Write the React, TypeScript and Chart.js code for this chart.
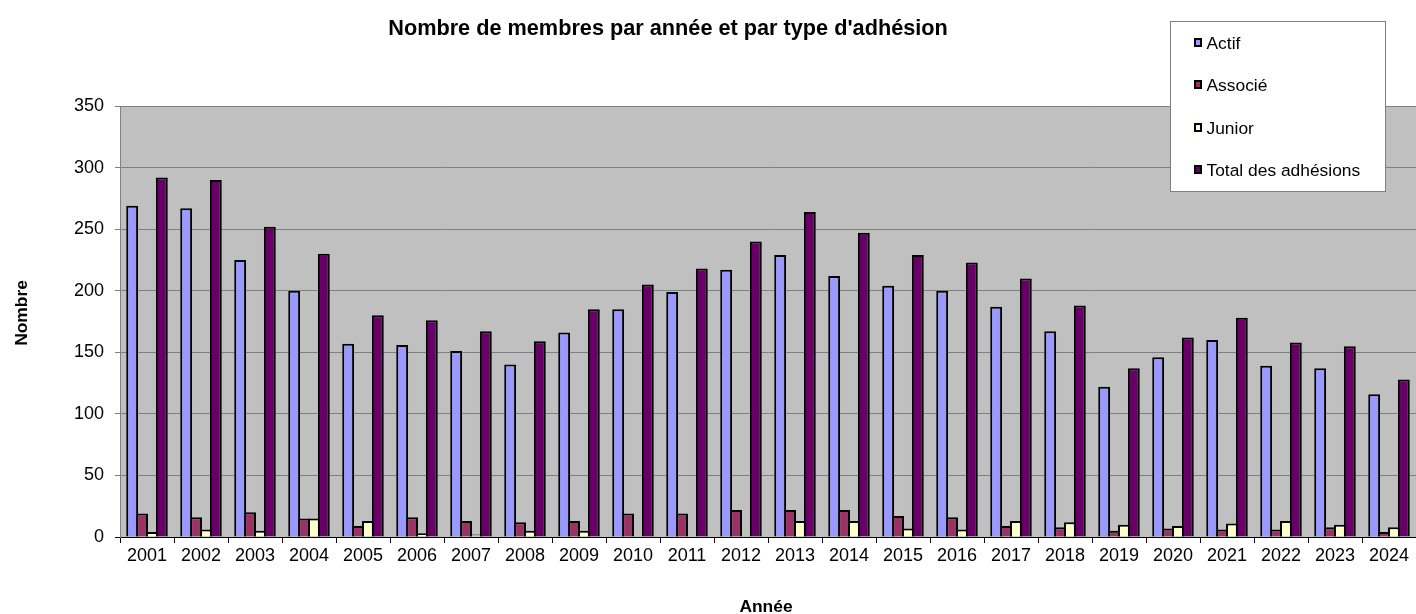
import { useEffect, useRef } from "react";
import { Chart, registerables } from "chart.js";

Chart.register(...registerables);

const years = [
  "2001", "2002", "2003", "2004", "2005", "2006", "2007", "2008",
  "2009", "2010", "2011", "2012", "2013", "2014", "2015", "2016",
  "2017", "2018", "2019", "2020", "2021", "2022", "2023", "2024",
];
const actif = [269, 267, 225, 200, 157, 156, 151, 140, 166, 185, 199, 217, 229, 212, 204, 200, 187, 167, 122, 146, 160, 139, 137, 116];
const associe = [19, 16, 20, 15, 9, 16, 13, 12, 13, 19, 19, 22, 22, 22, 17, 16, 9, 8, 5, 7, 6, 6, 8, 4];
const junior = [4, 6, 5, 15, 13, 3, 2, 5, 5, 0, 0, 0, 13, 13, 7, 6, 13, 12, 10, 9, 11, 13, 10, 8];
const total = [292, 290, 252, 230, 180, 176, 167, 159, 185, 205, 218, 240, 264, 247, 229, 223, 210, 188, 137, 162, 178, 158, 155, 128];

const seriesNames = ["Actif", "Associé", "Junior", "Total des adhésions"];
const seriesColors = ["#9999FF", "#993366", "#FFFFCC", "#660066"];
const yMin = 0;
const yMax = 350;
const yStep = 50;

const chartTitle = "Nombre de membres par année et par type d'adhésion";
const xTitle = "Année";
const yTitle = "Nombre";

const FONT = "'Liberation Sans', Arial, sans-serif";

export default function App() {
  const ref = useRef<HTMLCanvasElement | null>(null);

  useEffect(() => {
    document.body.style.margin = "0";
    const canvas = ref.current;
    if (!canvas) return;

    const bgPlugin = {
      id: "plotBg",
      beforeDraw(chart: any) {
        const { ctx, chartArea } = chart;
        ctx.save();
        ctx.fillStyle = "#C0C0C0";
        ctx.fillRect(chartArea.left, chartArea.top, chartArea.right - chartArea.left, chartArea.bottom - chartArea.top);
        ctx.restore();
      },
    };

    const overlayPlugin = {
      id: "overlay",
      afterDraw(chart: any) {
        const { ctx } = chart;
        ctx.save();
        // Title
        ctx.fillStyle = "#000";
        ctx.font = `bold 21.7px ${FONT}`;
        ctx.textAlign = "center";
        ctx.textBaseline = "alphabetic";
        ctx.fillText(chartTitle, 668, 35);

        // X axis title
        ctx.font = `bold 17.4px ${FONT}`;
        ctx.fillText(xTitle, 766, 611.5);

        // Y axis title
        ctx.save();
        ctx.translate(27, 313);
        ctx.rotate(-Math.PI / 2);
        ctx.font = `bold 17.4px ${FONT}`;
        ctx.fillText(yTitle, 0, 0);
        ctx.restore();

        // Legend
        ctx.fillStyle = "#FFFFFF";
        ctx.fillRect(1170, 21, 215, 171);
        ctx.strokeStyle = "#7F7F7F";
        ctx.lineWidth = 1;
        ctx.strokeRect(1170.5, 21.5, 215, 170);
        ctx.font = `17.4px ${FONT}`;
        ctx.textAlign = "left";
        chart.data.datasets.forEach((ds: any, i: number) => {
          const base = 48.5 + i * 42.6;
          const cy = Math.round(base - 7);
          ctx.fillStyle = "#000";
          ctx.fillRect(1194, cy - 4, 8, 9);
          ctx.fillStyle = ds.backgroundColor;
          ctx.fillRect(1196, cy - 2, 4, 5);
          ctx.fillStyle = "#000";
          ctx.fillText(ds.label, 1206.5, base);
        });
        ctx.restore();
      },
    };

    const seriesData = [actif, associe, junior, total];

    const chart = new Chart(canvas, {
      type: "bar",
      data: {
        labels: years,
        datasets: seriesNames.map((name, i) => ({
          label: name,
          data: seriesData[i],
          backgroundColor: seriesColors[i],
          borderColor: "#000000",
          borderWidth: 2,
          barPercentage: 1.2,
          categoryPercentage: 0.733,
        })),
      },
      options: {
        responsive: false,
        animation: false,
        devicePixelRatio: 1,
        layout: { padding: { top: 106, right: 0, left: 0, bottom: 0 } },
        plugins: {
          legend: { display: false },
          title: { display: false },
          tooltip: { enabled: false },
        },
        scales: {
          x: {
            type: "category",
            offset: true,
            grid: {
              drawOnChartArea: false,
              drawTicks: true,
              tickLength: 6,
              color: "#000000",
              offset: true,
            },
            border: { color: "#000000", width: 1 },
            ticks: {
              font: { family: FONT, size: 18 },
              color: "#000000",
              padding: 2,
              maxRotation: 0,
              autoSkip: false,
            },
            afterFit: (s: any) => {
              s.height = 77;
            },
          },
          y: {
            min: yMin,
            max: yMax,
            ticks: {
              stepSize: yStep,
              font: { family: FONT, size: 18 },
              color: "#000000",
              padding: 11,
            },
            grid: {
              color: (c: any) => (c.tick && c.tick.value === 0 ? "#000000" : "#808080"),
              tickLength: 5,
              lineWidth: 1,
            },
            border: { color: "#808080", width: 1 },
            afterFit: (s: any) => {
              s.width = 120;
            },
          },
        },
      },
      plugins: [bgPlugin, overlayPlugin],
    });

    return () => {
      chart.destroy();
    };
  }, []);

  return (
    <div style={{ width: 1416, height: 614 }}>
      <canvas ref={ref} width={1416} height={614} style={{ display: "block", width: 1416, height: 614 }} />
    </div>
  );
}
